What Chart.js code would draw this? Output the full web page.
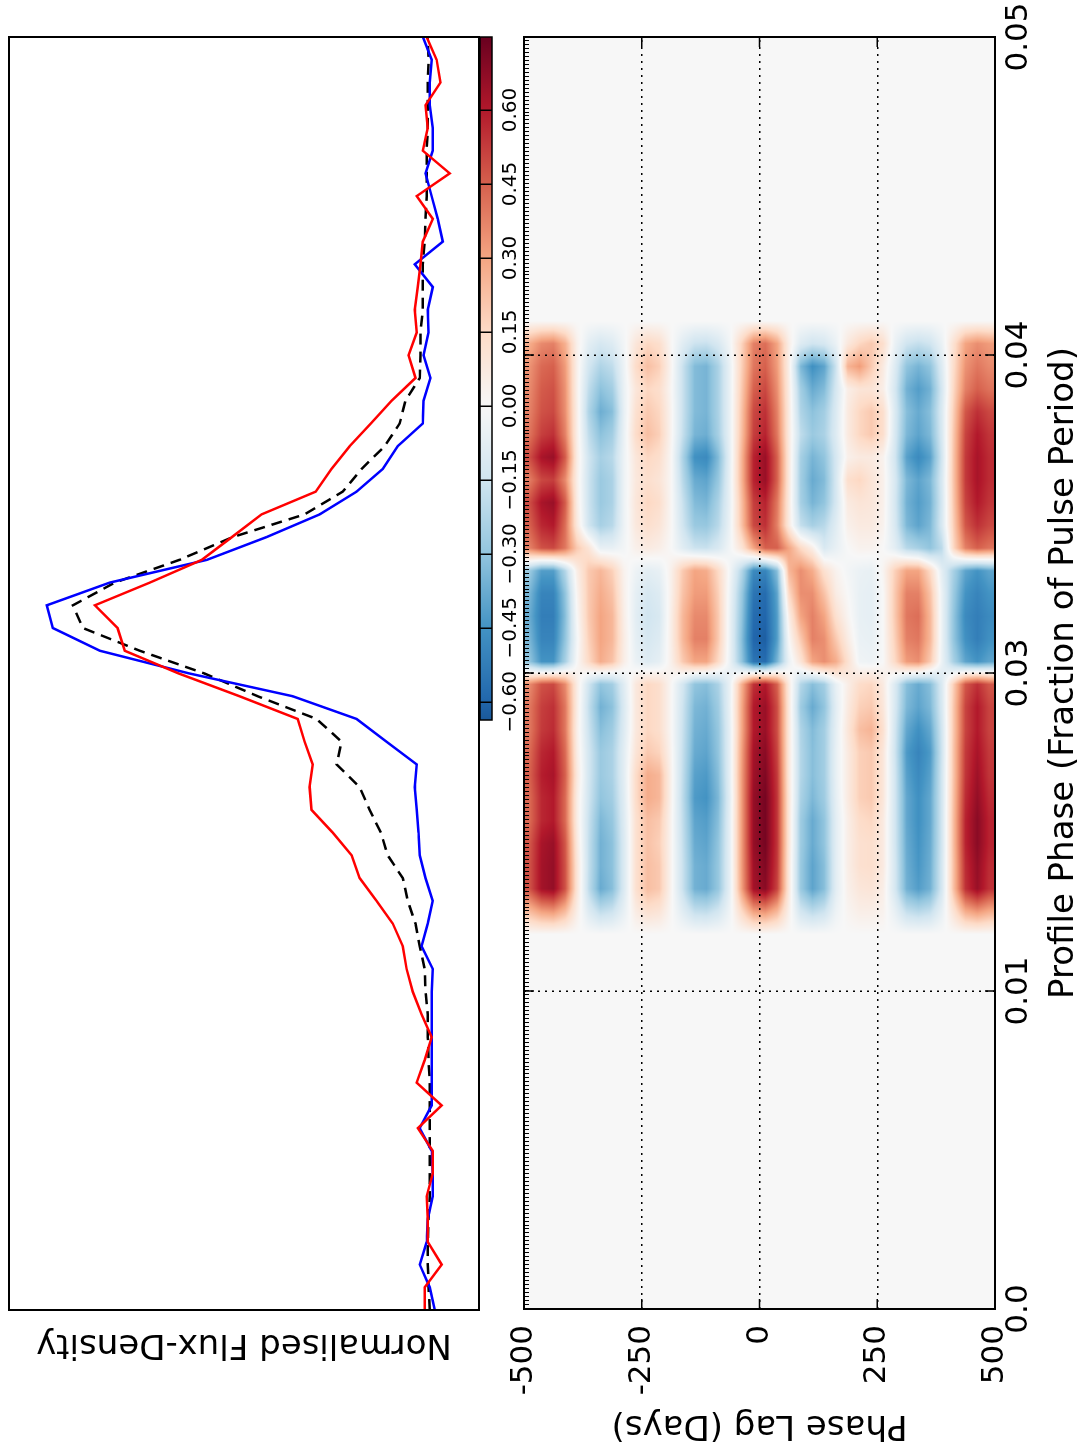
<!DOCTYPE html>
<html>
<head>
<meta charset="utf-8">
<script src="https://cdn.jsdelivr.net/npm/chart.js@4.4.1/dist/chart.umd.min.js"></script>
<style>
  html, body { margin: 0; padding: 0; background: #fff; overflow: hidden; width: 1085px; height: 1452px; }
  /* the figure is laid out landscape and turned a quarter turn anticlockwise */
  #fig { position: absolute; left: 0; top: 0; width: 1452px; height: 1085px;
         transform-origin: 0 0; transform: translate(0px, 1452px) rotate(-90deg); background: #fff; }
  #fig canvas { position: absolute; }
</style>
</head>
<body>
<div id="fig">
  <canvas id="flux" width="1452" height="500" style="left:0;top:0;"></canvas>
  <canvas id="lag" width="1452" height="585" style="left:0;top:500px;"></canvas>
  <canvas id="cbar" width="752" height="70" style="left:700px;top:470px;"></canvas>
</div>
<script>
// ---------- pulse profiles (normalised flux density, 57 samples across phase 0 - 0.05) ----------
const PHASE_MAX = 0.05;
const PROFILE_BLUE = [-0.008,0.005,0.031,0.013,0.010,-0.003,-0.003,0.000,0.031,0.000,
  0.000,0.000,0.000,0.000,0.000,-0.003,0.026,0.010,-0.003,0.016,
  0.031,0.034,0.039,0.044,0.039,0.117,0.195,0.361,0.629,0.862,
  0.984,1.000,0.836,0.584,0.429,0.291,0.195,0.127,0.088,0.023,
  0.021,0.003,0.021,0.008,0.010,-0.003,0.044,-0.029,-0.016,0.000,
  0.016,-0.003,-0.003,0.005,0.005,0.000,0.023];
const PROFILE_RED = [0.018,0.018,-0.026,0.010,0.010,0.013,-0.003,-0.003,0.036,-0.026,
  0.039,0.018,0.000,0.026,0.049,0.065,0.075,0.101,0.143,0.187,
  0.208,0.257,0.312,0.317,0.309,0.330,0.348,0.499,0.657,0.797,
  0.816,0.875,0.732,0.597,0.519,0.442,0.301,0.260,0.213,0.158,
  0.104,0.042,0.060,0.039,0.044,0.036,0.029,0.023,-0.003,0.039,
  -0.047,0.023,0.010,0.016,-0.023,-0.013,0.013];
const PROFILE_AVG = [0.005,0.008,0.010,0.010,0.008,0.005,0.005,0.005,0.005,0.005,
  0.005,0.008,0.010,0.010,0.016,0.018,0.031,0.042,0.062,0.075,
  0.114,0.132,0.161,0.187,0.247,0.234,0.299,0.452,0.590,0.758,
  0.906,0.932,0.823,0.655,0.517,0.330,0.231,0.182,0.122,0.083,
  0.068,0.031,0.029,0.029,0.023,0.023,0.023,0.018,0.016,0.013,
  0.013,0.013,0.010,0.010,0.010,0.008,0.010];
const FLUX_RANGE = [-0.123, 1.098];

// ---------- axis ticks ----------
const PHASE_TICKS = [0, 0.0125, 0.025, 0.0375, 0.05];
const PHASE_TICK_LABELS = ['0.0', '0.01', '0.03', '0.04', '0.05'];
const LAG_TICKS = [-500, -250, 0, 250, 500];
const LAG_TICK_LABELS = ['-500', '-250', '0', '250', '500'];
const CBAR_TICKS = [-0.60, -0.45, -0.30, -0.15, 0.00, 0.15, 0.30, 0.45, 0.60];
const CBAR_RANGE = [-0.637, 0.748];

// ---------- correlation map: 40 lag rows (25 d each, -500..500) x phase bins 17..42 of 56 ----------
const LAG_RANGE = [-500, 500];
const PHASE_BINS = 56;
const FIRST_BIN = 17;
const CORR = [
  [0.24, 0.48,0.48,0.47,0.43,0.43,0.45,0.43,0.40,0.40,0.36, -0.30,-0.35,-0.38,-0.35,-0.28, 0.38,0.45,0.49,0.39,0.49,0.41,0.38,0.36,0.34,0.28],
  [0.31, 0.63,0.63,0.62,0.57,0.57,0.59,0.57,0.53,0.52,0.48, -0.45,-0.50,-0.52,-0.50,-0.42, 0.48,0.57,0.62,0.50,0.62,0.52,0.48,0.46,0.43,0.36],
  [0.33, 0.66,0.66,0.65,0.60,0.60,0.62,0.60,0.56,0.55,0.50, -0.45,-0.50,-0.52,-0.50,-0.42, 0.50,0.60,0.65,0.52,0.65,0.55,0.50,0.48,0.45,0.38],
  [0.24, 0.48,0.48,0.47,0.43,0.43,0.45,0.43,0.40,0.40,0.36, -0.25,-0.30,-0.32,-0.30,-0.22, 0.40,0.42,0.46,0.36,0.46,0.38,0.35,0.34,0.32,0.27],
  [0.05, 0.10,0.10,0.08,0.06,0.06,0.08,0.06,0.05,0.06,0.06, 0.00,-0.02,0.00,0.02,0.05, 0.20,0.08,0.06,0.05,0.06,0.05,0.05,0.04,0.04,0.04],
  [-0.10, -0.19,-0.18,-0.18,-0.17,-0.15,-0.14,-0.14,-0.16,-0.18,-0.15, 0.15,0.18,0.20,0.20,0.20, 0.10,-0.15,-0.16,-0.16,-0.15,-0.19,-0.23,-0.19,-0.14,-0.08],
  [-0.19, -0.38,-0.36,-0.36,-0.34,-0.30,-0.28,-0.28,-0.32,-0.36,-0.30, 0.28,0.30,0.30,0.28,0.25, -0.06,-0.25,-0.28,-0.28,-0.25,-0.31,-0.37,-0.31,-0.23,-0.13],
  [-0.16, -0.32,-0.31,-0.31,-0.29,-0.26,-0.24,-0.24,-0.27,-0.31,-0.26, 0.22,0.25,0.25,0.22,0.18, -0.06,-0.21,-0.24,-0.24,-0.21,-0.26,-0.32,-0.26,-0.19,-0.10],
  [-0.06, -0.11,-0.11,-0.11,-0.10,-0.09,-0.08,-0.08,-0.10,-0.11,-0.09, 0.05,0.06,0.05,0.04,0.03, -0.02,-0.04,-0.04,-0.04,-0.04,-0.05,-0.06,-0.05,-0.04,-0.02],
  [0.06, 0.12,0.12,0.12,0.12,0.14,0.14,0.10,0.08,0.08,0.08, -0.05,-0.07,-0.08,-0.07,-0.04, 0.04,0.08,0.09,0.08,0.09,0.14,0.12,0.09,0.14,0.09],
  [0.12, 0.23,0.23,0.22,0.23,0.28,0.28,0.20,0.16,0.16,0.16, -0.10,-0.13,-0.15,-0.13,-0.08, 0.07,0.13,0.16,0.13,0.16,0.23,0.20,0.16,0.23,0.16],
  [0.10, 0.20,0.20,0.18,0.20,0.25,0.25,0.17,0.13,0.13,0.13, -0.07,-0.10,-0.12,-0.10,-0.06, 0.05,0.10,0.13,0.10,0.13,0.18,0.16,0.13,0.18,0.13],
  [0.01, 0.02,0.02,0.02,0.02,0.03,0.03,0.02,0.01,0.01,0.01, 0.04,0.05,0.05,0.04,0.04, 0.00,0.01,0.01,0.01,0.01,0.02,0.02,0.01,0.02,0.01],
  [-0.09, -0.17,-0.17,-0.18,-0.19,-0.20,-0.19,-0.18,-0.17,-0.16,-0.14, 0.20,0.25,0.25,0.22,0.20, -0.09,-0.15,-0.17,-0.21,-0.24,-0.18,-0.17,-0.17,-0.17,-0.09],
  [-0.18, -0.36,-0.36,-0.38,-0.40,-0.43,-0.41,-0.38,-0.36,-0.34,-0.30, 0.30,0.38,0.36,0.32,0.30, -0.16,-0.28,-0.33,-0.38,-0.46,-0.35,-0.33,-0.33,-0.33,-0.16],
  [-0.19, -0.38,-0.38,-0.40,-0.42,-0.45,-0.43,-0.40,-0.38,-0.36,-0.32, 0.30,0.38,0.36,0.32,0.28, -0.17,-0.29,-0.35,-0.40,-0.48,-0.37,-0.35,-0.35,-0.35,-0.17],
  [-0.14, -0.29,-0.29,-0.30,-0.32,-0.34,-0.32,-0.30,-0.29,-0.27,-0.24, 0.15,0.20,0.20,0.18,0.15, -0.12,-0.21,-0.24,-0.29,-0.33,-0.25,-0.24,-0.24,-0.24,-0.12],
  [-0.03, -0.06,-0.06,-0.06,-0.06,-0.07,-0.06,-0.06,-0.06,-0.05,-0.05, -0.05,-0.05,-0.05,-0.04,-0.02, -0.02,-0.04,-0.05,-0.05,-0.06,-0.05,-0.05,-0.05,-0.05,-0.02],
  [0.15, 0.31,0.32,0.32,0.32,0.32,0.32,0.31,0.29,0.29,0.27, -0.30,-0.32,-0.30,-0.28,-0.22, 0.10,0.22,0.23,0.26,0.26,0.23,0.22,0.20,0.18,0.17],
  [0.31, 0.63,0.64,0.66,0.66,0.66,0.64,0.63,0.60,0.60,0.55, -0.55,-0.60,-0.58,-0.55,-0.48, 0.30,0.50,0.52,0.58,0.58,0.52,0.50,0.45,0.40,0.38],
  [0.34, 0.68,0.70,0.72,0.72,0.72,0.70,0.68,0.65,0.65,0.60, -0.58,-0.62,-0.60,-0.58,-0.50, 0.45,0.55,0.58,0.65,0.65,0.58,0.55,0.50,0.45,0.42],
  [0.25, 0.51,0.53,0.54,0.54,0.54,0.53,0.51,0.49,0.49,0.45, -0.35,-0.42,-0.42,-0.40,-0.32, 0.45,0.38,0.40,0.45,0.45,0.40,0.38,0.35,0.32,0.30],
  [0.04, 0.08,0.08,0.09,0.09,0.09,0.08,0.08,0.08,0.08,0.07, -0.05,0.00,0.05,0.15,0.25, 0.30,0.07,0.07,0.08,0.08,0.07,0.07,0.06,0.05,0.05],
  [-0.14, -0.28,-0.28,-0.27,-0.27,-0.24,-0.22,-0.22,-0.23,-0.27,-0.22, 0.10,0.20,0.30,0.35,0.35, 0.15,-0.18,-0.25,-0.26,-0.25,-0.19,-0.23,-0.26,-0.34,-0.10],
  [-0.20, -0.40,-0.40,-0.38,-0.38,-0.34,-0.32,-0.32,-0.33,-0.38,-0.32, 0.30,0.38,0.38,0.35,0.28, 0.05,-0.25,-0.35,-0.38,-0.35,-0.28,-0.31,-0.38,-0.46,-0.15],
  [-0.16, -0.32,-0.32,-0.30,-0.30,-0.27,-0.26,-0.26,-0.26,-0.30,-0.26, 0.35,0.35,0.30,0.22,0.12, -0.12,-0.21,-0.30,-0.33,-0.30,-0.24,-0.26,-0.33,-0.40,-0.13],
  [-0.04, -0.08,-0.08,-0.08,-0.08,-0.07,-0.06,-0.06,-0.07,-0.08,-0.06, 0.28,0.20,0.12,0.06,0.03, -0.06,-0.09,-0.13,-0.13,-0.13,-0.10,-0.11,-0.13,-0.16,-0.05],
  [0.02, 0.04,0.05,0.05,0.05,0.07,0.07,0.07,0.09,0.07,0.05, 0.12,0.06,0.02,0.00,-0.02, 0.00,0.04,0.07,0.13,0.04,0.07,0.07,0.05,0.26,0.08],
  [0.05, 0.09,0.12,0.12,0.14,0.18,0.18,0.18,0.23,0.18,0.14, -0.03,-0.05,-0.06,-0.06,-0.05, 0.03,0.07,0.10,0.16,0.07,0.16,0.16,0.10,0.32,0.16],
  [0.05, 0.10,0.13,0.13,0.16,0.20,0.20,0.20,0.26,0.20,0.16, -0.04,-0.06,-0.07,-0.07,-0.06, 0.03,0.07,0.09,0.10,0.07,0.20,0.20,0.10,0.20,0.20],
  [0.03, 0.05,0.07,0.07,0.07,0.09,0.09,0.09,0.12,0.09,0.07, 0.00,0.00,0.00,0.00,0.02, 0.00,0.03,0.04,0.04,0.03,0.13,0.13,0.05,0.07,0.13],
  [-0.06, -0.13,-0.13,-0.14,-0.14,-0.14,-0.14,-0.15,-0.14,-0.12,-0.11, 0.15,0.18,0.20,0.20,0.18, -0.08,-0.12,-0.13,-0.12,-0.14,-0.12,-0.11,-0.13,-0.10,-0.05],
  [-0.18, -0.36,-0.37,-0.38,-0.39,-0.39,-0.41,-0.43,-0.39,-0.34,-0.32, 0.32,0.38,0.40,0.38,0.30, -0.21,-0.34,-0.36,-0.34,-0.41,-0.34,-0.32,-0.36,-0.30,-0.15],
  [-0.21, -0.42,-0.44,-0.45,-0.46,-0.46,-0.48,-0.50,-0.46,-0.40,-0.38, 0.35,0.40,0.42,0.38,0.30, -0.25,-0.40,-0.42,-0.40,-0.48,-0.40,-0.38,-0.42,-0.35,-0.18],
  [-0.18, -0.36,-0.37,-0.38,-0.39,-0.39,-0.41,-0.43,-0.39,-0.34,-0.32, 0.20,0.25,0.25,0.22,0.15, -0.30,-0.34,-0.36,-0.34,-0.41,-0.34,-0.32,-0.36,-0.30,-0.15],
  [-0.06, -0.13,-0.13,-0.14,-0.14,-0.14,-0.14,-0.15,-0.14,-0.12,-0.11, -0.05,-0.05,-0.05,-0.05,-0.08, -0.20,-0.12,-0.13,-0.12,-0.14,-0.12,-0.11,-0.13,-0.10,-0.05],
  [0.11, 0.23,0.23,0.24,0.24,0.23,0.22,0.22,0.21,0.21,0.19, -0.25,-0.30,-0.30,-0.28,-0.25, 0.16,0.19,0.21,0.22,0.22,0.21,0.19,0.16,0.14,0.12],
  [0.28, 0.55,0.56,0.58,0.58,0.56,0.54,0.53,0.51,0.51,0.47, -0.40,-0.46,-0.48,-0.45,-0.40, 0.38,0.47,0.51,0.53,0.53,0.51,0.47,0.38,0.34,0.30],
  [0.33, 0.65,0.66,0.68,0.68,0.66,0.64,0.62,0.60,0.60,0.55, -0.45,-0.52,-0.52,-0.50,-0.45, 0.45,0.55,0.60,0.62,0.62,0.60,0.55,0.45,0.40,0.35],
  [0.28, 0.55,0.56,0.58,0.58,0.56,0.54,0.53,0.51,0.51,0.47, -0.40,-0.46,-0.48,-0.45,-0.40, 0.41,0.50,0.54,0.56,0.56,0.54,0.50,0.41,0.36,0.32]
];
const CMAP_LIMIT = 0.75;

// ---------- diverging colour map (blue - white - red) ----------
const RDBU_R = [[5,48,97],[33,102,172],[67,147,195],[146,197,222],[209,229,240],[247,247,247],
                [253,219,199],[244,165,130],[214,96,77],[178,24,43],[103,0,31]];
function cmap(v) {
  let t = (v + CMAP_LIMIT) / (2 * CMAP_LIMIT);
  t = Math.max(0, Math.min(1, t));
  const s = t * 10, k = Math.min(9, Math.floor(s)), f = s - k;
  const a = RDBU_R[k], b = RDBU_R[k + 1];
  return [a[0] + (b[0] - a[0]) * f, a[1] + (b[1] - a[1]) * f, a[2] + (b[2] - a[2]) * f];
}
const rgb = c => `rgb(${Math.round(c[0])},${Math.round(c[1])},${Math.round(c[2])})`;

Chart.defaults.font.family = "'DejaVu Sans', 'Liberation Sans', sans-serif";
Chart.defaults.color = '#000';
const CLEAR = 'rgba(0,0,0,0)';

// black box round each plot area
const frame = {
  id: 'frame',
  afterDraw(chart, args, opts) {
    const {ctx, chartArea: a} = chart;
    ctx.save();
    ctx.strokeStyle = '#000';
    ctx.lineWidth = opts.width || 2;
    ctx.strokeRect(a.left, a.top, a.right - a.left, a.bottom - a.top);
    ctx.restore();
  }
};

// smooth (bilinear) rendering of the correlation grid, located via the chart scales
function corrAt(r, c) {
  const rows = CORR.length;
  r = Math.max(0, Math.min(rows - 1, r));
  const j = c - FIRST_BIN;
  if (j < 0 || j >= CORR[0].length) return 0;
  return CORR[r][j];
}
const corrImage = {
  id: 'corrImage',
  beforeDatasetsDraw(chart) {
    const {ctx, chartArea: a, scales: {x, y}} = chart;
    const w = Math.round(a.right - a.left), h = Math.round(a.bottom - a.top);
    const off = document.createElement('canvas');
    off.width = w; off.height = h;
    const octx = off.getContext('2d');
    const img = octx.createImageData(w, h);
    const rowSize = (LAG_RANGE[1] - LAG_RANGE[0]) / CORR.length;
    const binSize = PHASE_MAX / PHASE_BINS;
    const colPos = new Float32Array(w);
    for (let px = 0; px < w; px++) colPos[px] = x.getValueForPixel(a.left + px + 0.5) / binSize - 0.5;
    for (let py = 0; py < h; py++) {
      const fr = (y.getValueForPixel(a.top + py + 0.5) - LAG_RANGE[0]) / rowSize - 0.5;
      const r0 = Math.floor(fr), tr = fr - r0;
      for (let px = 0; px < w; px++) {
        const fc = colPos[px];
        const c0 = Math.floor(fc), tc = fc - c0;
        const v = (1 - tr) * ((1 - tc) * corrAt(r0, c0) + tc * corrAt(r0, c0 + 1)) +
                  tr * ((1 - tc) * corrAt(r0 + 1, c0) + tc * corrAt(r0 + 1, c0 + 1));
        const col = cmap(v);
        const o = (py * w + px) * 4;
        img.data[o] = col[0]; img.data[o + 1] = col[1]; img.data[o + 2] = col[2]; img.data[o + 3] = 255;
      }
    }
    octx.putImageData(img, 0, 0);
    ctx.drawImage(off, a.left, a.top);
  }
};

// short inward tick marks on all four sides, plus fine marks along the upper edge
const innerTicks = {
  id: 'innerTicks',
  afterDraw(chart) {
    const {ctx, chartArea: a, scales: {x, y}} = chart;
    const L = 10;
    ctx.save();
    ctx.strokeStyle = '#000';
    ctx.lineWidth = 1.5;
    ctx.beginPath();
    x.ticks.forEach(t => {
      const p = x.getPixelForValue(t.value);
      if (p <= a.left + 1 || p >= a.right - 1) return;
      ctx.moveTo(p, a.top); ctx.lineTo(p, a.top + L);
      ctx.moveTo(p, a.bottom); ctx.lineTo(p, a.bottom - L);
    });
    y.ticks.forEach(t => {
      const p = y.getPixelForValue(t.value);
      if (p <= a.top + 1 || p >= a.bottom - 1) return;
      ctx.moveTo(a.left, p); ctx.lineTo(a.left + L, p);
      ctx.moveTo(a.right, p); ctx.lineTo(a.right - L, p);
    });
    ctx.stroke();
    ctx.lineWidth = 1;
    ctx.beginPath();
    const n = 320;
    for (let k = 1; k < n; k++) {
      const p = Math.round(x.getPixelForValue(PHASE_MAX * k / n)) + 0.5;
      ctx.moveTo(p, a.top); ctx.lineTo(p, a.top + 5);
    }
    ctx.stroke();
    ctx.restore();
  }
};

// ---------- upper panel: pulse profiles ----------
const phases = PROFILE_BLUE.map((_, i) => PHASE_MAX * i / (PROFILE_BLUE.length - 1));
const series = (vals) => vals.map((v, i) => ({x: phases[i], y: v}));

new Chart(document.getElementById('flux'), {
  type: 'line',
  data: {
    datasets: [
      {data: series(PROFILE_RED), borderColor: '#ff0000', borderWidth: 2.5, pointRadius: 0, tension: 0, order: 0},
      {data: series(PROFILE_BLUE), borderColor: '#0000ff', borderWidth: 2.5, pointRadius: 0, tension: 0, order: 1},
      {data: series(PROFILE_AVG), borderColor: '#000000', borderWidth: 2.5, borderDash: [11, 7], pointRadius: 0, tension: 0, order: 2}
    ]
  },
  options: {
    responsive: false, animation: false, devicePixelRatio: 1,
    layout: {padding: {left: 84, top: 9, right: 37, bottom: 21}},
    plugins: {legend: {display: false}, tooltip: {enabled: false}, frame: {width: 2}},
    scales: {
      x: {type: 'linear', min: 0, max: PHASE_MAX, display: false},
      y: {
        type: 'linear', min: FLUX_RANGE[0], max: FLUX_RANGE[1],
        afterFit: s => { s.width = 58; },
        ticks: {display: false},
        grid: {display: false},
        border: {display: false},
        title: {display: true, text: 'Normalised Flux-Density', font: {size: 34}, color: '#000', padding: {top: 4, bottom: 4}}
      }
    }
  },
  plugins: [frame]
});

// ---------- lower panel: correlation against phase lag ----------
new Chart(document.getElementById('lag'), {
  type: 'scatter',
  data: {datasets: [{data: [], pointRadius: 0}]},
  options: {
    responsive: false, animation: false, devicePixelRatio: 1,
    layout: {padding: {left: 3, top: 24, right: 37, bottom: 0}},
    plugins: {legend: {display: false}, tooltip: {enabled: false}, frame: {width: 2}},
    scales: {
      x: {
        type: 'linear', position: 'bottom', min: 0, max: PHASE_MAX,
        afterBuildTicks: s => { s.ticks = PHASE_TICKS.map(v => ({value: v})); },
        afterFit: s => { s.height = 90; },
        ticks: {callback: (v, i) => PHASE_TICK_LABELS[i], font: {size: 31}, color: '#000', padding: 0, maxRotation: 0, autoSkip: false},
        grid: {color: '#000', lineWidth: 1.5, drawTicks: true, tickLength: 5, tickColor: CLEAR, z: 1},
        border: {display: false, dash: [2, 5]},
        title: {display: true, text: 'Profile Phase (Fraction of Pulse Period)', font: {size: 34}, color: '#000', padding: {top: 0, bottom: 0}}
      },
      y: {
        type: 'linear', reverse: true, min: LAG_RANGE[0], max: LAG_RANGE[1],
        afterBuildTicks: s => { s.ticks = LAG_TICKS.map(v => ({value: v})); },
        afterFit: s => { s.width = 140; },
        ticks: {callback: (v, i) => LAG_TICK_LABELS[i], font: {size: 31}, color: '#000', padding: 0, autoSkip: false},
        grid: {color: '#000', lineWidth: 1.5, drawTicks: true, tickLength: 16, tickColor: CLEAR, z: 1},
        border: {display: false, dash: [2, 5]},
        title: {display: true, text: 'Phase Lag (Days)', font: {size: 34}, color: '#000', padding: {top: 4, bottom: 4}}
      }
    }
  },
  plugins: [corrImage, frame, innerTicks]
});

// ---------- colour bar ----------
function barGradient(context) {
  const chart = context.chart;
  if (!chart.chartArea) return '#f7f7f7';
  const x = chart.scales.x;
  const x0 = x.getPixelForValue(CBAR_RANGE[0]), x1 = x.getPixelForValue(CBAR_RANGE[1]);
  const g = chart.ctx.createLinearGradient(x0, 0, x1, 0);
  const n = 60;
  for (let k = 0; k <= n; k++) {
    const v = CBAR_RANGE[0] + (CBAR_RANGE[1] - CBAR_RANGE[0]) * k / n;
    g.addColorStop(k / n, rgb(cmap(v)));
  }
  return g;
}
const fmtBar = v => (v < -1e-9 ? '\u2212' : '') + Math.abs(v).toFixed(2);

new Chart(document.getElementById('cbar'), {
  type: 'bar',
  data: {labels: [''], datasets: [{data: [CBAR_RANGE], backgroundColor: barGradient, borderWidth: 0, barPercentage: 1, categoryPercentage: 1}]},
  options: {
    indexAxis: 'y', responsive: false, animation: false, devicePixelRatio: 1,
    layout: {padding: {left: 32, right: 37, top: 10, bottom: 0}},
    plugins: {legend: {display: false}, tooltip: {enabled: false}, frame: {width: 1.5}},
    scales: {
      x: {
        type: 'linear', min: CBAR_RANGE[0], max: CBAR_RANGE[1],
        afterBuildTicks: s => { s.ticks = CBAR_TICKS.map(v => ({value: v})); },
        afterFit: s => { s.height = 48; },
        ticks: {callback: v => fmtBar(v), font: {size: 20}, color: '#000', padding: 0, maxRotation: 0, autoSkip: false},
        grid: {color: '#000', lineWidth: 1.5, drawTicks: true, tickLength: 7, tickColor: CLEAR, z: 1},
        border: {display: false}
      },
      y: {display: false}
    }
  },
  plugins: [frame]
});
</script>
</body>
</html>
